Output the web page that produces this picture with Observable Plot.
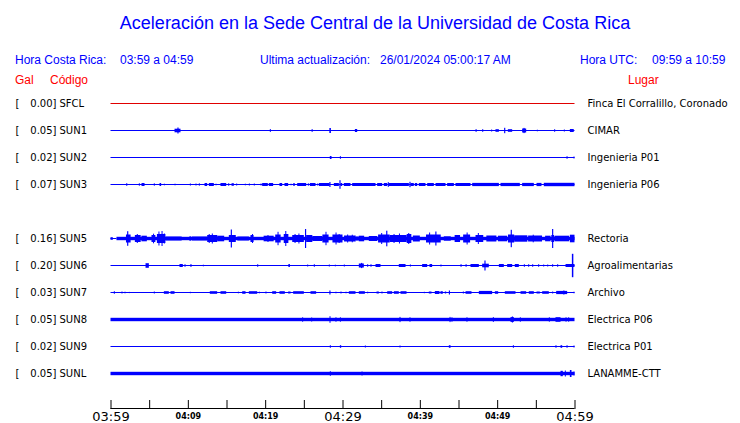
<!DOCTYPE html>
<html><head><meta charset="utf-8">
<script src="https://cdn.jsdelivr.net/npm/d3@7"></script>
<script src="https://cdn.jsdelivr.net/npm/@observablehq/plot@0.6"></script>
<style>
body{margin:0;background:#fff;}
#wrap{position:relative;width:740px;height:423px;overflow:hidden;background:#fff;}
.h{position:absolute;font-family:"Liberation Sans",Arial,sans-serif;white-space:pre;line-height:1;}
</style></head><body><div id="wrap"></div>
<script>
// ---- data ----
const rowOrder = ["SFCL","SUN1","SUN2","SUN3","SUN4","SUN5","SUN6","SUN7","SUN8","SUN9","SUNL"];
const codes  = ["SFCL","SUN1","SUN2","SUN3","SUN5","SUN6","SUN7","SUN8","SUN9","SUNL"];
const peaks  = [0.00, 0.05, 0.02, 0.07, 0.16, 0.20, 0.03, 0.05, 0.02, 0.05];
const places = ["Finca El Corralillo, Coronado","CIMAR","Ingenieria P01","Ingenieria P06","Rectoria",
                "Agroalimentarias","Archivo","Electrica P06","Electrica P01","LANAMME-CTT"];
// background noise half-amplitude (relative units) for each trace, and minute where it begins
const noise      = [0.5, 0.5, 0.5, 0.5, 1.7, 0.5, 0.5, 1.7, 0.5, 1.7];
const noiseStart = [0, 0, 0, 0, 0.77, 0, 0, 0, 0, 0];
// bursts: [start minute, end minute, half-amplitude], minutes after 03:59
const evSFCL = [];
const evSUN1 = [[8.28,9.05,1.8],[8.65,8.8,3.0],[20.6,20.75,1.3],[26.0,26.15,1.3],[28.3,28.5,2.5],[31.6,31.9,1.5],
  [47.2,47.35,1.3],[48.06,48.2,1.3],[49.22,49.35,1.0],[49.78,50.22,1.3],[50.9,51.05,2.7],[51.38,51.94,1.3],
  [53.23,53.75,2.0],[53.4,53.55,2.6],[55.13,55.25,0.8],[57.37,57.5,1.3],[58.62,58.75,1.0],[59.4,59.9,1.5]];
const evSUN2 = [[28.36,28.58,1.5],[29.66,29.8,1.3],[58.97,59.1,1.3],[59.87,60,1.0]];
const evSUN3 = [[2.03,2.17,1.3],[3.66,3.8,1.2],[4.01,4.4,1.5],[5.6,5.73,1.2],[6.34,6.55,1.5],[6.9,7.0,0.8],
  [8.28,8.4,0.8],[10.26,10.4,1.0],[10.99,11.1,1.0],[11.42,11.55,1.2],[12.16,12.5,1.5],[12.72,13.36,1.5],
  [13.58,13.7,0.8],[14.22,14.96,1.5],[15.22,15.35,1.3],[15.65,15.95,1.3],[16.25,16.35,1.0],[17.37,17.45,0.8],
  [17.89,18.0,1.0],[18.53,18.65,1.0],[19.4,19.5,1.0],[19.61,20.34,1.5],[20.47,21.03,1.5],[21.85,22.2,1.5],
  [22.5,22.97,1.5],[23.28,23.4,0.8],[23.62,23.84,1.3],[24.14,25.3,1.5],[25.52,25.62,1.2],[25.78,26.51,1.5],
  [26.72,26.82,1.0],[26.94,28.32,1.5],[28.3,28.45,2.5],[28.88,29.53,1.5],[29.6,29.75,4.3],[29.74,29.96,1.5],
  [30.17,31.03,1.5],[31.25,34.27,1.5],[34.48,35.13,1.5],[35.34,35.78,1.5],[35.85,36.0,2.3],[35.99,38.58,1.5],
  [38.65,38.8,2.7],[38.79,39.22,1.5],[39.35,39.66,1.5],[39.87,40.73,1.5],[40.95,41.81,1.5],[42.03,43.32,1.5],
  [43.53,44.4,1.5],[44.61,46.55,1.5],[46.77,50.22,1.6],[50.43,52.93,1.6],[53.23,54.74,1.6],[55.09,55.73,1.6],
  [56.03,60,1.7]];
const evSUN5 = [[0,0.3,1.3],
  [2.0,2.6,4.0],[2.15,2.3,7.3],[3.15,3.9,3.5],[3.4,3.5,4.5],[4.0,4.7,2.8],[5.3,5.8,3.5],[5.5,5.6,4.8],
  [6.0,7.1,4.5],[6.2,6.3,7.0],[6.6,6.7,7.5],[6.9,7.0,5.0],[7.1,9.2,2.0],[10.2,10.4,2.2],[10.5,12.5,2.0],
  [12.5,13.8,3.5],[12.7,12.8,4.5],[13.1,13.2,5.0],[13.8,14.7,2.8],[15.3,16.2,3.5],[15.55,15.7,9.0],
  [16.4,17.9,2.0],[18.1,18.5,3.5],[18.3,18.4,4.5],[19.8,21.1,2.8],[20.3,20.4,3.5],[21.3,22.0,4.0],
  [21.6,21.7,6.7],[22.4,23.0,4.5],[22.6,22.7,7.5],[23.5,25.0,3.5],[23.8,23.9,4.5],[24.3,24.4,5.0],
  [25.15,25.3,9.5],[25.3,26.1,3.5],[26.1,27.4,2.5],[27.4,28.2,4.0],[27.8,27.9,6.7],[28.7,30.0,4.0],
  [29.1,29.2,6.0],[29.5,29.6,4.5],[30.2,31.7,3.0],[30.6,30.7,4.0],[31.2,31.3,3.8],[31.7,32.1,2.0],
  [32.1,32.8,2.8],[33.4,34.5,2.5],[34.6,36.1,4.0],[35.0,35.1,5.5],[35.65,35.8,7.8],[36.1,38.3,3.5],
  [36.6,36.7,4.5],[37.3,37.4,5.0],[38.3,38.9,4.5],[38.5,38.6,5.5],[39.1,40.0,3.0],[40.8,42.7,4.0],
  [41.2,41.3,6.0],[42.0,42.15,7.0],[43.1,44.0,2.2],[44.5,45.2,3.5],[45.6,46.5,4.0],[46.05,46.15,6.0],
  [47.2,48.2,3.5],[47.5,47.6,5.5],[48.6,49.9,3.0],[50.1,51.3,2.8],[51.4,52.2,4.0],[51.75,51.9,8.7],
  [52.2,53.9,3.2],[54.0,55.8,3.0],[54.6,54.7,3.8],[56.2,56.9,2.8],[57.0,57.35,3.5],[57.1,57.25,9.5],
  [57.4,59.3,2.8],[59.4,60,3.8]];
const evSUN6 = [[4.53,4.96,2.3],[8.92,9.35,1.5],[9.57,9.7,1.3],[10.34,10.47,1.5],[11.94,12.05,0.8],[18.97,19.1,1.3],
  [23.0,23.2,1.5],[25.43,25.55,1.0],[26.29,26.42,1.3],[28.23,28.36,1.0],[29.01,29.1,0.8],[30.17,30.3,1.0],
  [32.11,32.76,2.0],[32.4,32.55,2.6],[33.19,33.32,1.3],[33.62,33.75,1.3],[34.27,34.91,1.5],[37.28,38.15,1.5],
  [38.71,38.85,1.0],[40.3,40.95,1.5],[41.25,41.59,1.5],[42.67,42.8,1.0],[45.26,45.4,1.3],[45.91,46.05,1.3],
  [46.55,47.63,1.5],[48.06,48.92,1.8],[48.35,48.5,5.0],[50.22,50.86,1.5],[51.29,51.94,1.5],[52.28,52.8,1.5],
  [53.45,53.58,1.3],[54.01,54.14,1.3],[54.53,54.66,1.3],[55.3,55.43,1.3],[55.95,56.08,1.0],[56.47,56.6,1.0],
  [57.11,57.24,1.3],[57.76,57.89,1.3],[58.84,60,1.5],[59.66,59.85,11.7]];
const evSUN7 = [[0.43,0.55,1.3],[1.42,1.52,1.0],[1.81,1.9,0.8],[2.37,2.45,0.6],[5.6,5.7,1.0],[6.9,7.54,1.3],
  [7.76,8.28,1.3],[10.26,10.35,0.7],[12.84,13.79,1.3],[14.22,14.96,1.3],[16.47,16.57,0.8],[17.03,17.46,1.3],
  [17.89,18.97,1.3],[19.18,19.28,0.8],[20.04,20.14,1.0],[20.91,21.42,1.3],[21.85,22.54,1.3],[22.97,23.28,1.0],
  [23.62,25.0,1.3],[25.86,26.59,1.3],[28.3,28.45,2.0],[29.09,29.19,0.8],[29.74,29.84,1.0],[30.39,30.49,0.8],
  [30.82,31.68,1.3],[32.11,32.89,1.3],[33.19,33.29,0.8],[34.4,34.7,1.0],[35.04,35.14,1.0],[35.78,36.42,1.3],
  [36.64,37.28,1.3],[37.5,38.28,1.3],[40.52,40.6,0.7],[41.16,41.51,1.0],[41.94,42.54,1.5],[42.67,42.97,1.3],
  [43.23,43.41,1.0],[43.75,43.9,2.0],[45.56,45.66,1.0],[45.91,46.68,1.3],[47.63,49.35,1.6],[49.7,50.13,1.3],
  [50.99,52.37,1.3],[53.02,53.75,1.3],[54.09,54.74,1.3],[55.09,55.52,1.0],[55.82,56.68,1.3],[57.11,57.2,1.0],
  [57.63,59.05,1.6],[58.55,58.7,2.0],[59.87,60,0.8]];
const evSUN8 = [[24.78,24.9,2.2],[25.95,26.08,2.0],[28.32,28.45,3.3],[29.09,29.2,2.2],[29.66,29.78,2.2],
  [37.37,37.5,2.6],[38.66,38.78,2.2],[43.84,43.96,2.6],[44.09,44.2,2.2],[46.03,46.15,2.2],[49.44,49.56,2.4],
  [51.72,52.16,2.4],[51.9,52.05,3.0],[52.93,53.05,2.2],[56.68,56.8,2.2],[57.54,58.19,2.3],[58.84,58.95,2.2],
  [59.18,59.3,2.2]];
const evSUN9 = [[28.36,28.48,1.3],[29.66,29.83,1.3],[32.89,33.0,1.0],[37.37,37.48,1.0],[43.75,43.97,1.3],
  [52.03,52.15,1.3],[57.54,57.66,1.3],[58.19,58.41,1.3],[58.97,59.09,1.3],[59.87,60,1.0]];
const evSUNL = [[28.36,28.48,2.3],[32.46,32.58,2.0],[58.19,58.49,2.7],[58.75,58.87,3.0],[59.4,59.61,3.5],[59.87,60,2.0]];
const events = [evSFCL,evSUN1,evSUN2,evSUN3,evSUN5,evSUN6,evSUN7,evSUN8,evSUN9,evSUNL];
const majorTicks = ["03:59","04:29","04:59"];
const minorTicks = ["04:09","04:19","04:39","04:49"];

// ---- build ----
const start = Date.UTC(2024,0,26,3,59);
const toDate = m => new Date(start + m*60000);
const fromLabel = s => { const [h,m] = s.split(":").map(Number); return new Date(Date.UTC(2024,0,26,h,m)); };
const rowSpan = 27;   // amplitude units between two trace baselines
const thin = 0.5;     // half-width of the bare trace line
const W = 740, H = 423, mT = 90, mB = 14;

const stations = codes.map((c,i)=>({code:c,row:rowOrder.indexOf(c),peak:peaks[i],place:places[i]}));
const segs = [];
stations.forEach((s,i)=>{
  if (noiseStart[i] > 0) segs.push({...s,t0:0,t1:noiseStart[i],amp:thin});
  segs.push({...s,t0:noiseStart[i],t1:60,amp:noise[i]});
  events[i].forEach(([t0,t1,amp])=>segs.push({...s,t0,t1:Math.min(60,Math.max(t1,t0+0.13)),amp}));
});

const tickDates = d3.range(0,61,5).map(toDate);
const traceRect = (data, fill) => Plot.rect(data, {x1:d=>toDate(d.t0), x2:d=>toDate(d.t1),
  y1:d=>d.row*rowSpan-d.amp, y2:d=>d.row*rowSpan+d.amp, fill});

const plot = Plot.plot({
  width: W, height: H,
  marginTop: mT, marginBottom: mB, marginLeft: 110, marginRight: 165,
  style: {fontFamily: "DejaVu Sans", fontSize: "10px", color: "black", background: "transparent"},
  x: {type: "utc", domain: [toDate(0), toDate(60)], range: [110.5, 574.5], axis: null},
  y: {domain: [0, 10*rowSpan], range: [103.5, 373.5], axis: null},
  marks: [
    traceRect(segs.filter(d=>d.peak===0), "#e00000"),
    traceRect(segs.filter(d=>d.peak>0), "#0000ff"),
    // station labels
    Plot.text(stations, {y:d=>d.row*rowSpan, text:()=>"[", frameAnchor:"left", dx:-95, textAnchor:"start", fill:"black"}),
    Plot.text(stations, {y:d=>d.row*rowSpan, text:d=>d.peak.toFixed(2)+"]", frameAnchor:"left", dx:-54, textAnchor:"end", fill:"black"}),
    Plot.text(stations, {y:d=>d.row*rowSpan, text:d=>d.code, frameAnchor:"left", dx:-51, textAnchor:"start", fill:"black"}),
    Plot.text(stations, {y:d=>d.row*rowSpan, text:d=>d.place, frameAnchor:"right", dx:12, textAnchor:"start", fill:"black"}),
    // time axis
    Plot.rect([0], {x1:()=>toDate(0), x2:()=>toDate(60), insetTop:(H-mT-mB)-1, fill:"black"}),
    Plot.ruleX(tickDates, {x:d=>d, insetTop:(H-mT-mB)-9, stroke:"black"}),
    Plot.text(majorTicks, {x:fromLabel, text:d=>d, frameAnchor:"bottom", lineAnchor:"top", dy:2, fontSize:13, fill:"black"}),
    Plot.text(minorTicks, {x:fromLabel, text:d=>d, frameAnchor:"bottom", lineAnchor:"top", dy:4, fontSize:8, fontWeight:"bold", fill:"black"})
  ]
});
const wrap = document.getElementById("wrap");
wrap.appendChild(plot);

// ---- header texts ----
function place(text, left, baseline, size, color, center) {
  const el = document.createElement("div");
  el.className = "h";
  el.textContent = text;
  el.style.fontSize = size + "px";
  el.style.color = color;
  el.style.top = (baseline - 0.8465*size) + "px";
  el.style.left = left + "px";
  if (center) el.style.transform = "translateX(-50%)";
  wrap.appendChild(el);
}
const BLUE = "#0000ff", RED = "#ff0000";
place("Aceleración en la Sede Central de la Universidad de Costa Rica", 375, 29, 18, BLUE, true);
place("Hora Costa Rica:", 15, 64.5, 12, BLUE);
place("03:59 a 04:59", 120, 64.5, 12, BLUE);
place("Ultima actualización:", 260, 64.5, 12, BLUE);
place("26/01/2024 05:00:17 AM", 380, 64.5, 12, BLUE);
place("Hora UTC:", 580, 64.5, 12, BLUE);
place("09:59 a 10:59", 652, 64.5, 12, BLUE);
place("Gal", 15, 84.5, 12, RED);
place("Código", 50, 84.5, 12, RED);
place("Lugar", 628, 84.5, 12, RED);
</script></body></html>
